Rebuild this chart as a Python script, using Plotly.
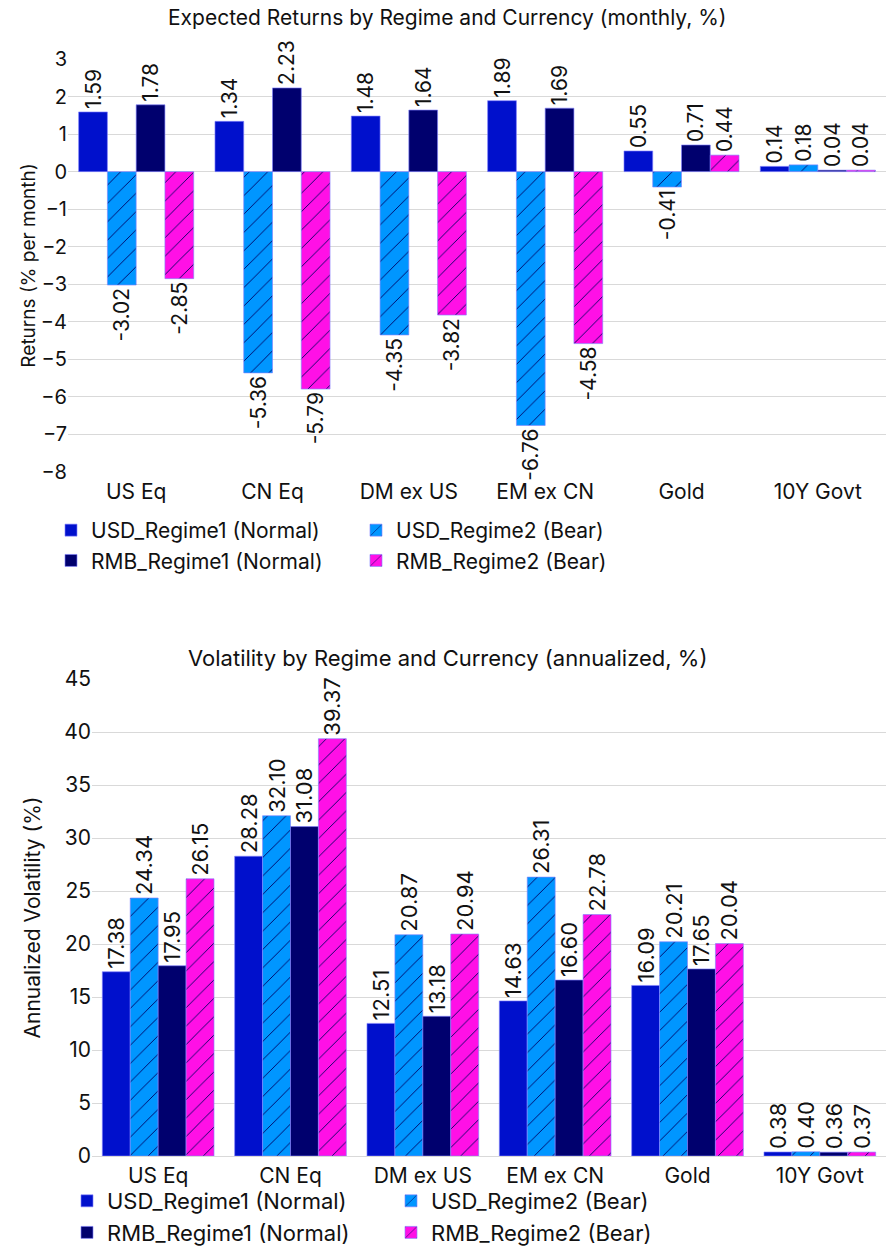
import plotly.graph_objects as go

categories = ["US Eq", "CN Eq", "DM ex US", "EM ex CN", "Gold", "10Y Govt"]
series_names = ["USD_Regime1 (Normal)", "USD_Regime2 (Bear)", "RMB_Regime1 (Normal)", "RMB_Regime2 (Bear)"]

ret_usd_r1 = [1.59, 1.34, 1.48, 1.89, 0.55, 0.14]
ret_usd_r2 = [-3.02, -5.36, -4.35, -6.76, -0.41, 0.18]
ret_rmb_r1 = [1.78, 2.23, 1.64, 1.69, 0.71, 0.04]
ret_rmb_r2 = [-2.85, -5.79, -3.82, -4.58, 0.44, 0.04]

vol_usd_r1 = [17.38, 28.28, 12.51, 14.63, 16.09, 0.38]
vol_usd_r2 = [24.34, 32.10, 20.87, 26.31, 20.21, 0.40]
vol_rmb_r1 = [17.95, 31.08, 13.18, 16.60, 17.65, 0.36]
vol_rmb_r2 = [26.15, 39.37, 20.94, 22.78, 20.04, 0.37]

ret_ticks = [3, 2, 1, 0, -1, -2, -3, -4, -5, -6, -7, -8]
vol_ticks = [0, 5, 10, 15, 20, 25, 30, 35, 40, 45]

colors = ["#0010CC", "#0096FF", "#00006E", "#FF10E6"]
hatched = [False, True, False, True]
HATCH_FG = "#000060"

FONT = "Inter"
W, H = 894, 1248

fig = go.Figure()

def add_set(values_list, xa, ya, legend, fontsize):
    for name, vals, col, hat in zip(series_names, values_list, colors, hatched):
        marker = dict(color=col, line=dict(color="rgba(130,130,255,0.8)", width=0.8))
        if hat:
            marker["pattern"] = dict(shape="/", fgcolor=HATCH_FG, bgcolor=col,
                                     size=13, solidity=0.07, fillmode="replace")
        fig.add_trace(go.Bar(
            x=categories, y=vals, name=name, marker=marker,
            text=[f"{v:.2f}" for v in vals], textposition="outside",
            textangle=-90, constraintext="none", cliponaxis=False,
            textfont=dict(family=FONT, size=fontsize, color="#111111"),
            xaxis=xa, yaxis=ya, legend=legend,
        ))

add_set([ret_usd_r1, ret_usd_r2, ret_rmb_r1, ret_rmb_r2], "x", "y", "legend", 21)
add_set([vol_usd_r1, vol_usd_r2, vol_rmb_r1, vol_rmb_r2], "x2", "y2", "legend2", 22)

grid = "#d9d9d9"
fig.update_layout(
    width=W, height=H,
    margin=dict(l=0, r=0, t=0, b=0, autoexpand=False),
    paper_bgcolor="white", plot_bgcolor="white",
    font=dict(family=FONT, size=20, color="#111111"),
    barmode="group",
    showlegend=True,
    xaxis=dict(domain=[68 / W, 886 / W], anchor="y", showgrid=False,
               tickfont=dict(size=21), showline=False, ticks="", ticklabelstandoff=5),
    yaxis=dict(domain=[1 - 472 / H, 1 - 59 / H], anchor="x", range=[-8, 3],
               tickvals=ret_ticks, gridcolor=grid, zeroline=True, zerolinecolor=grid,
               zerolinewidth=1, tickfont=dict(size=20), ticks="",
               title=dict(text="Returns (% per month)", font=dict(size=19), standoff=0)),
    xaxis2=dict(domain=[92 / W, 886 / W], anchor="y2", showgrid=False,
                tickfont=dict(size=21), showline=False, ticks="", ticklabelstandoff=5),
    yaxis2=dict(domain=[1 - 1156 / H, 1 - 679 / H], anchor="x2", range=[0, 45],
                tickvals=vol_ticks, gridcolor=grid, zeroline=True, zerolinecolor=grid,
                zerolinewidth=1, tickfont=dict(size=21), ticks="",
                title=dict(text="Annualized Volatility (%)", font=dict(size=21), standoff=17)),
    legend=dict(orientation="h", x=51 / W, xanchor="left", y=1 - 510 / H, yanchor="top",
                entrywidth=260, entrywidthmode="pixels", font=dict(size=21),
                bgcolor="rgba(0,0,0,0)"),
    legend2=dict(orientation="h", x=67 / W, xanchor="left", y=1 - 1180 / H, yanchor="top",
                 entrywidth=279, entrywidthmode="pixels", font=dict(size=22),
                 bgcolor="rgba(0,0,0,0)"),
    annotations=[
        dict(text="Expected Returns by Regime and Currency (monthly, %)", x=0.5, y=1 - 18 / H,
             xref="paper", yref="paper", xanchor="center", yanchor="middle",
             showarrow=False, font=dict(size=21)),
        dict(text="Volatility by Regime and Currency (annualized, %)", x=0.5, y=1 - 658 / H,
             xref="paper", yref="paper", xanchor="center", yanchor="middle",
             showarrow=False, font=dict(size=22)),
    ],
)
fig.update_layout(bargap=0.156)
fig.write_html("out.html")
